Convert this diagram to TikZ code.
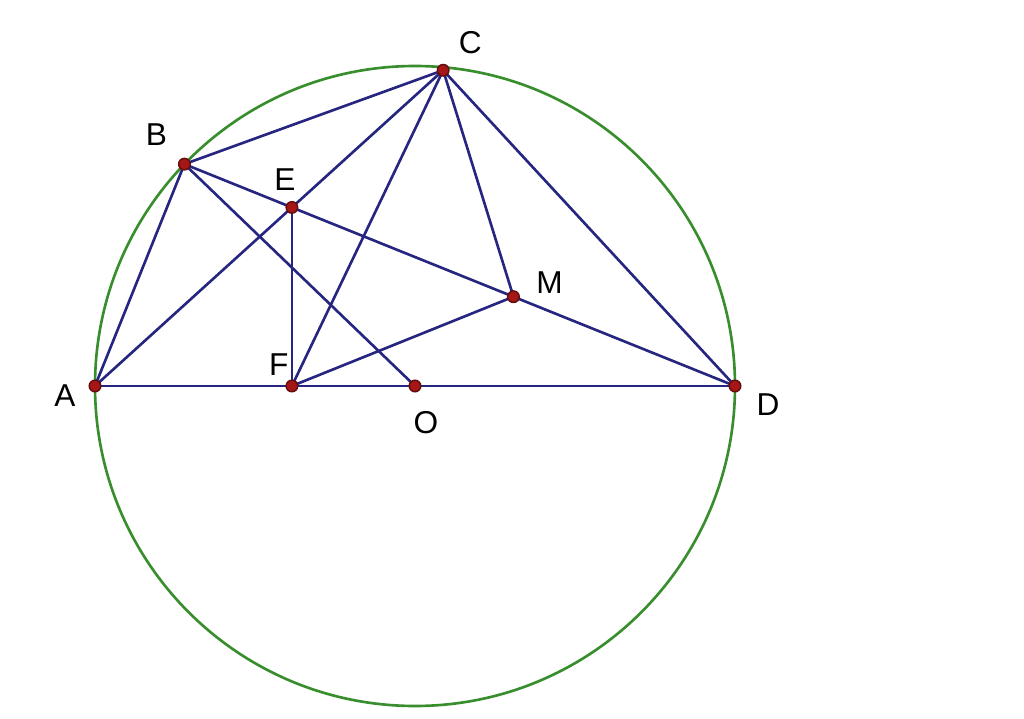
\documentclass[tikz,border=0pt]{standalone}
\usepackage{fontspec}
\setmainfont{Liberation Sans}
\usepackage{tikz,tkz-euclide}
\usetikzlibrary{intersections,calc}
\definecolor{segblue}{RGB}{38,38,128}
\definecolor{circgreen}{RGB}{56,142,44}
\definecolor{ptred}{RGB}{165,22,22}

\begin{document}
\begin{tikzpicture}[font=\fontsize{9}{10}\selectfont]
              \useasboundingbox (0,0) rectangle (10.24,7.18);
              \tkzDefPoint(4.15,3.32){O}
              \tkzDefShiftPoint[O](180:3.2){A}
              \tkzDefShiftPoint[O](0:3.2){D}
              \tkzDefShiftPoint[O](84.9:3.17){C}
              \tkzDefShiftPoint[O](136.1:3.2){B}
              \tkzInterLL(A,C)(B,D) \tkzGetPoint{E}
              \tkzDefMidPoint(E,D) \tkzGetPoint{M}
              \tkzDefPointBy[projection=onto A--D](E) \tkzGetPoint{F}
              \tkzDrawCircle[color=circgreen,line width=0.75pt](O,A)
              \tkzDrawSegments[color=segblue,line width=0.75pt](A,B B,C A,C A,D B,O B,D C,F C,M C,D E,F F,M)
              \foreach \p in {A,B,C,D,E,F,M,O}
                \filldraw[fill=ptred,draw=ptred!60!black,line width=0.4pt] (\p) circle (0.058);
              \path (A) ++(-0.30,-0.10) node (lA) {A};
              \path (B) ++(-0.28,0.30) node (lB) {B};
              \path (C) ++(0.27,0.28) node (lC) {C};
              \path (E) ++(-0.07,0.28) node (lE) {E};
              \path (F) ++(-0.13,0.21) node (lF) {F};
              \path (O) ++(0.11,-0.37) node (lO) {O};
              \path (M) ++(0.36,0.14) node (lM) {M};
              \path (D) ++(0.33,-0.19) node (lD) {D};

            \end{tikzpicture}
\end{document}
